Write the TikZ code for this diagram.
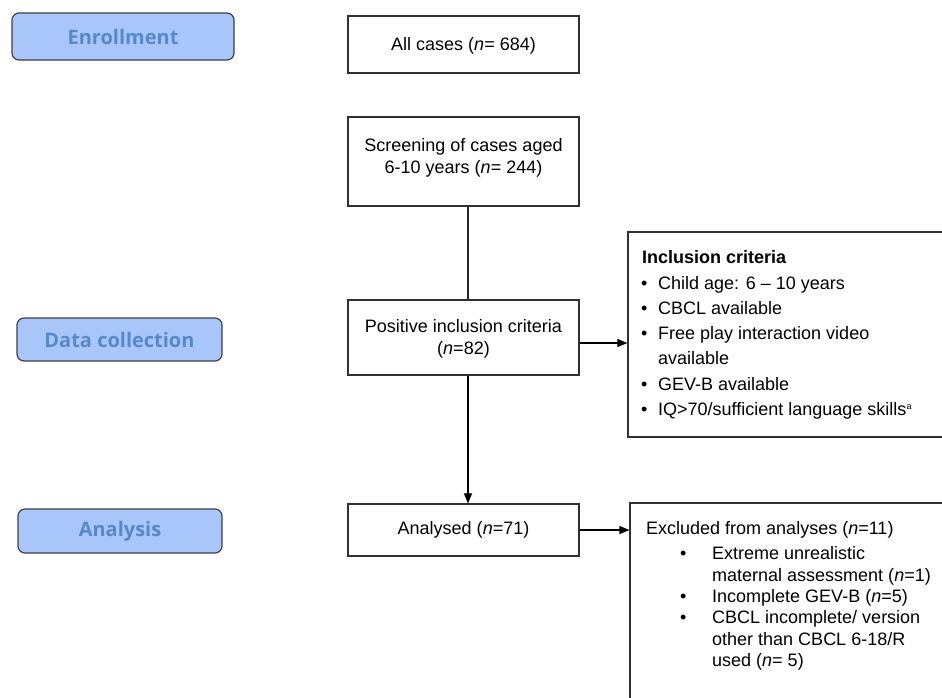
\documentclass[tikz,border=0pt]{standalone}
\usepackage{fontspec}
\setmainfont{Liberation Sans}
\newfontfamily\phasefont{Open Sans}
\usetikzlibrary{arrows.meta}
\definecolor{phasefill}{HTML}{A9C6FA}
\definecolor{phasetext}{HTML}{5689C9}
\definecolor{phaseline}{HTML}{404040}
\definecolor{boxline}{HTML}{303030}
\newcommand{\incbul}{\makebox[16pt][l]{\hspace*{-1pt}•}}
\newcommand{\excbul}{\hspace*{34pt}\makebox[32pt][l]{•}}
\newcommand{\excind}{\hspace*{66pt}}
\begin{document}
\begin{tikzpicture}[x=1pt,y=-1pt,
  phase/.style={draw=phaseline, line width=1.2pt, fill=phasefill, rounded corners=7pt,
    inner sep=0pt, text=phasetext, font=\phasefont\bfseries\fontsize{20}{24}\selectfont},
  flowbox/.style={draw=boxline, line width=1.2pt, inner sep=0pt},
  txt/.style={inner sep=0pt, font=\fontsize{18}{22}\selectfont},
  listtxt/.style={inner sep=0pt, align=left, anchor=north west},
  arr/.style={draw=black, line width=1.1pt, -{Triangle[length=10pt,width=8pt]}},
  link/.style={draw=black!85, line width=1.1pt}]
\clip (0,0) rectangle (942,697);
\fill[white] (0,0) rectangle (942,697);

% phase labels
\node[phase, minimum width=222pt, minimum height=47pt] (enr) at (123,36.5) {Enrollment};
\node[phase, minimum width=205pt, minimum height=43pt] (dat) at (119.5,339.5) {Data collection};
\node[phase, minimum width=204pt, minimum height=44pt] (anl) at (120,531) {Analysis};

% flow boxes
\node[flowbox, minimum width=231pt, minimum height=57pt] (all) at (463.5,44.5) {};
\node[flowbox, minimum width=231pt, minimum height=89pt] (scr) at (463.5,161.5) {};
\node[flowbox, minimum width=231pt, minimum height=75pt] (pos) at (463.5,337.5) {};
\node[flowbox, minimum width=231pt, minimum height=52pt] (ana) at (463.5,530) {};
\node[flowbox, minimum width=352pt, minimum height=205pt] (inc) at (804,334.5) {};
\node[flowbox, minimum width=350pt, minimum height=237pt] (exc) at (805,621.5) {};

% texts
\node[txt, anchor=base] (allt) at (463.5,50.5) {All cases (\textit{n}= 684)};
\node[txt, align=center, anchor=north] (scrt) at (463.5,135.6)
  {\strut Screening of cases aged\\6-10 years (\textit{n}= 244)};
\node[txt, align=center, anchor=north] (post) at (463.5,317.1)
  {\strut Positive inclusion criteria\\(\textit{n}=82)};
\node[txt, anchor=base] (anat) at (463.5,534.5) {Analysed (\textit{n}=71)};

\node[listtxt, font=\fontsize{18}{25.3}\selectfont] (inct) at (642,245.8)
  {\strut\textbf{Inclusion criteria}\\
   \incbul Child age: 6 – 10 years\\
   \incbul CBCL available\\
   \incbul Free play interaction video\\
   \hspace*{16pt}available\\
   \incbul GEV-B available\\
   \incbul IQ>70/sufficient language skills\raisebox{6pt}{\fontsize{9}{9}\selectfont a}};

\node[listtxt, font=\fontsize{18}{21.4}\selectfont] (exct) at (646,519.5)
  {\strut Excluded from analyses (\textit{n}=11)\\[3.6pt]
   \excbul Extreme unrealistic\\
   \excind maternal assessment (\textit{n}=1)\\
   \excbul Incomplete GEV-B (\textit{n}=5)\\
   \excbul CBCL incomplete/ version\\
   \excind other than CBCL 6-18/R\\
   \excind used (\textit{n}= 5)};

% connectors
\coordinate (lx) at (468,0);
\coordinate (ya) at (0,343);
\draw[link] (scr.south -| lx) -- (pos.north -| lx);
\draw[arr] (pos.south -| lx) -- (ana.north -| lx);
\draw[arr] (pos.east |- ya) -- (inc.west |- ya);
\draw[arr] (ana.east) -- (ana.east -| exc.west);
\end{tikzpicture}
\end{document}
